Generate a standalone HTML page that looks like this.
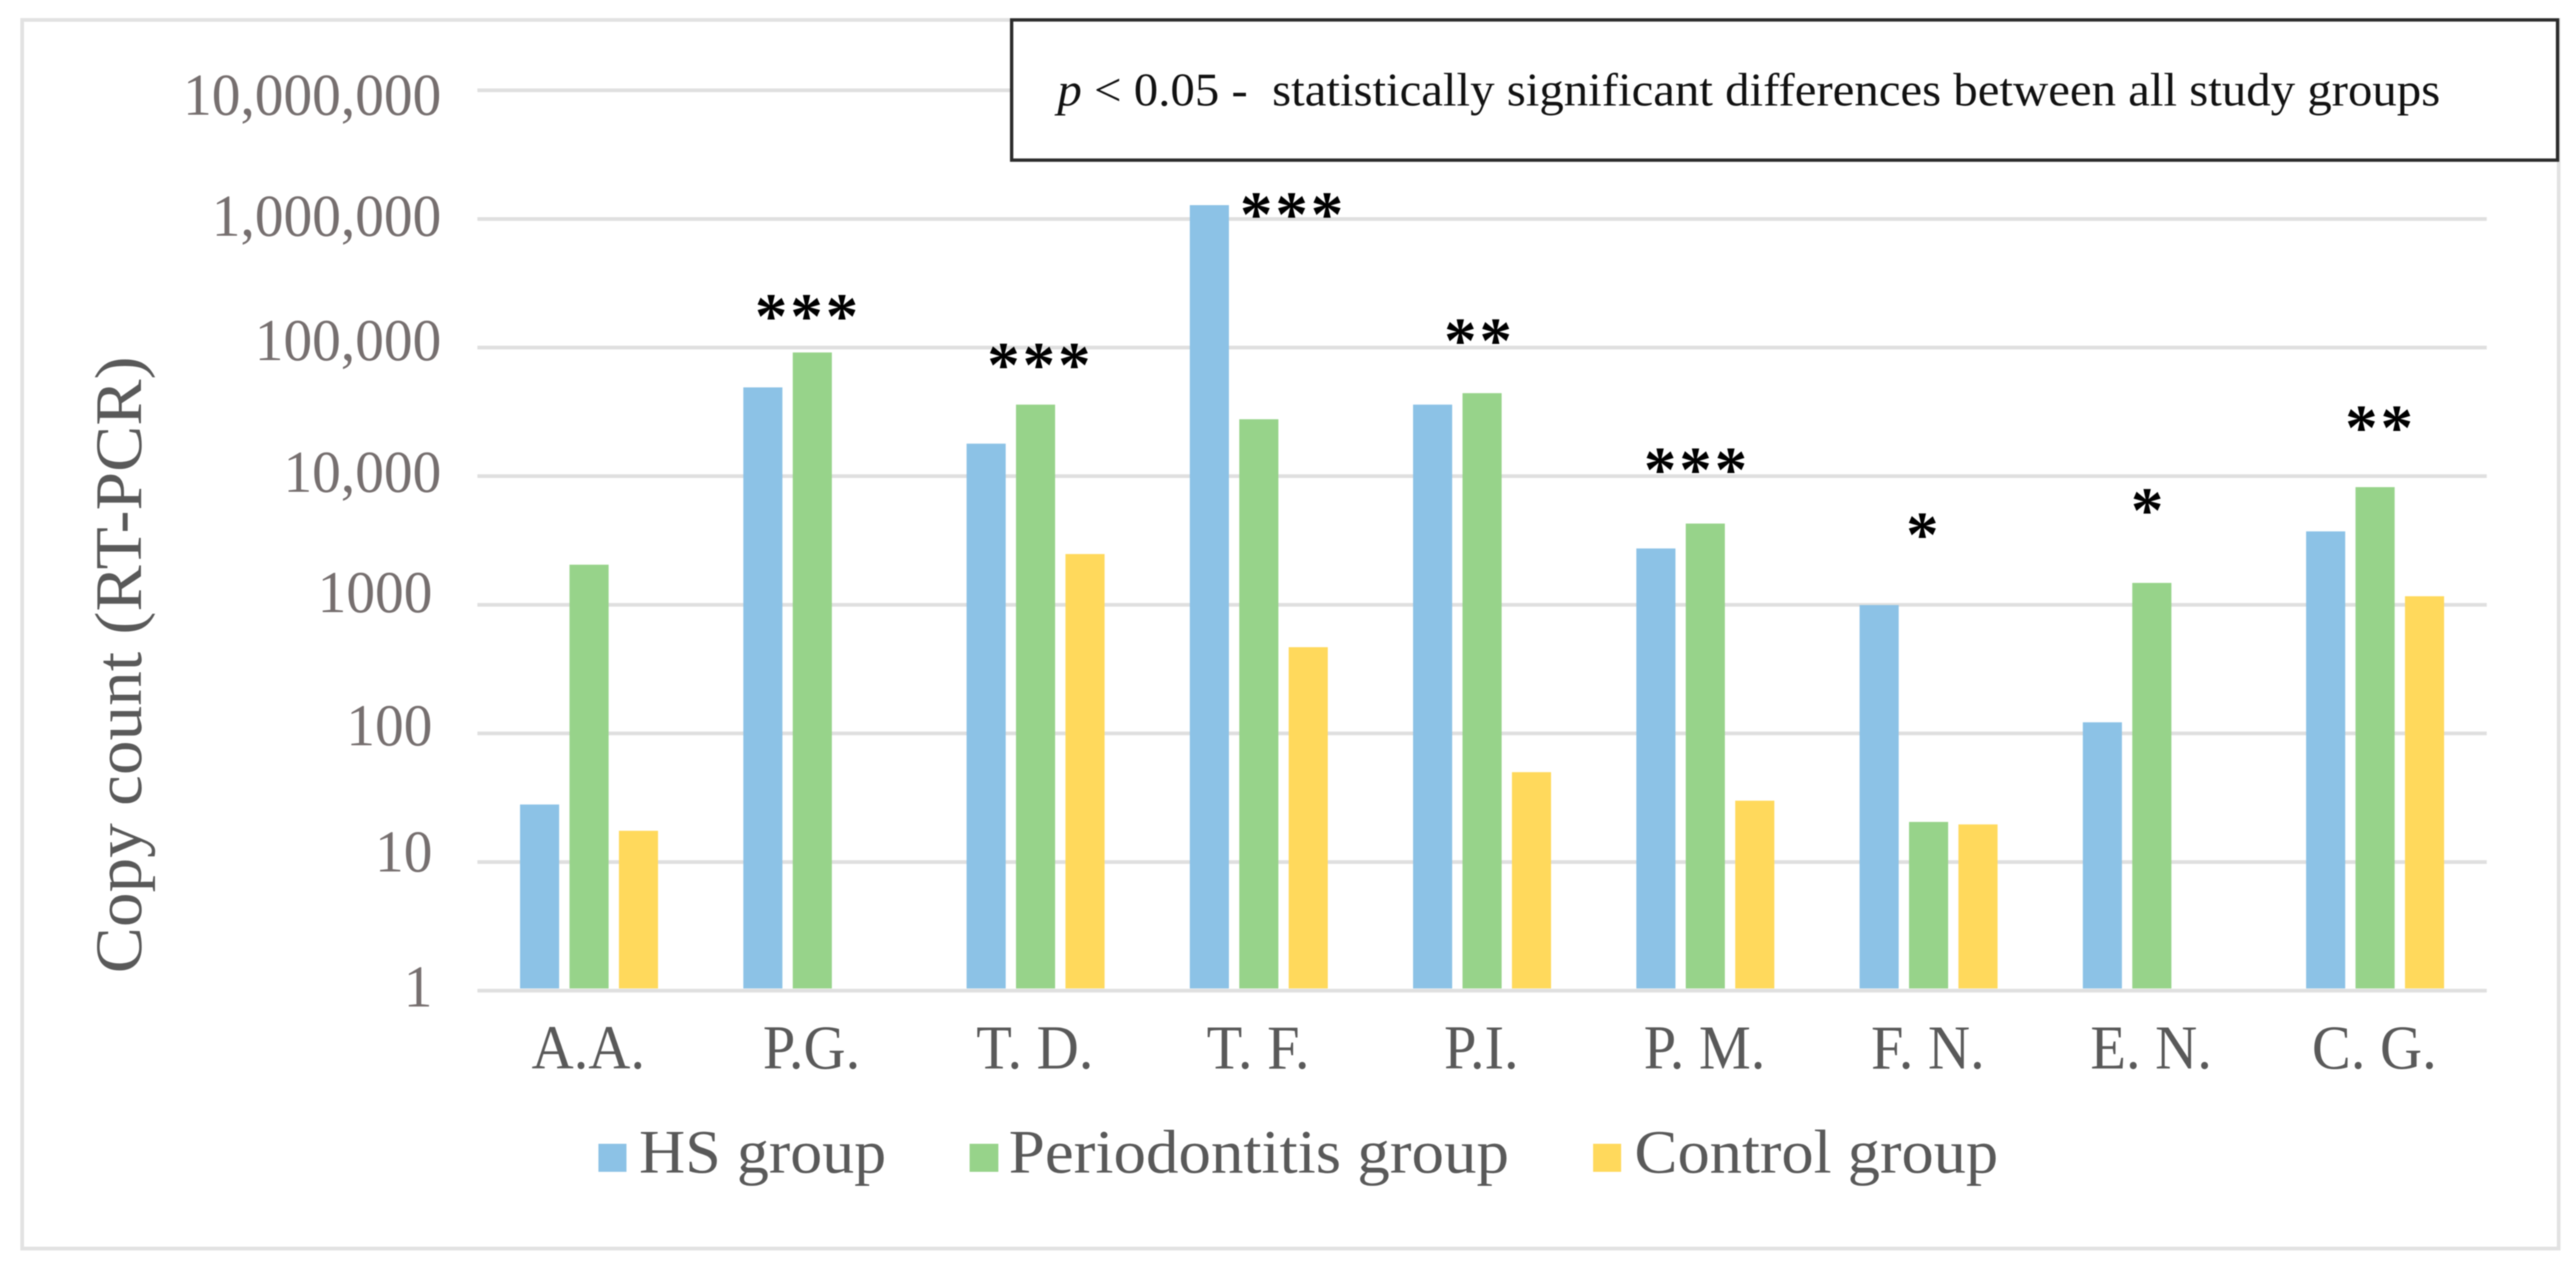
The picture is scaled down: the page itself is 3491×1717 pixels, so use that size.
<!DOCTYPE html>
<html lang="en">
<head>
<meta charset="utf-8">
<title>Copy count by species and study group</title>
<style>
  html, body { margin: 0; padding: 0; background: #fff; }
  body { width: 3491px; height: 1717px; overflow: hidden; }
  svg { display: block; filter: blur(0.8px); }
  text { font-family: "Liberation Serif", serif; }
</style>
</head>
<body>
<svg id="chart" xmlns="http://www.w3.org/2000/svg" width="3491" height="1717" viewBox="0 0 3491 1717">
  <rect x="30" y="27" width="3437.5" height="1665" fill="#fff" stroke="#e2e2e2" stroke-width="5"/>
  <g id="grid"></g>
  <g id="yticks"></g>
  <g id="bars"></g>
  <g id="xticks"></g>
  <g id="stars"></g>
  <text transform="translate(191,1319) rotate(-90)" font-size="90" fill="#595959" textLength="836" lengthAdjust="spacingAndGlyphs">Copy count (RT-PCR)</text>
  <g>
    <rect x="1371" y="27" width="2095" height="190" fill="#fff" stroke="#2b2b2b" stroke-width="4.5"/>
    <text x="1433" y="143" font-size="64" fill="#111" textLength="1874" lengthAdjust="spacingAndGlyphs" xml:space="preserve"><tspan font-style="italic">p</tspan> &lt; 0.05 -  statistically significant differences between all study groups</text>
  </g>
  <g>
    <g>
      <rect x="811" y="1550" width="38" height="38" fill="#8cc2e6"/>
      <text x="866" y="1589" font-size="84" fill="#595959" textLength="335" lengthAdjust="spacingAndGlyphs">HS group</text>
    </g>
    <g>
      <rect x="1314" y="1550" width="39" height="38" fill="#97d38a"/>
      <text x="1367" y="1589" font-size="84" fill="#595959" textLength="678" lengthAdjust="spacingAndGlyphs">Periodontitis group</text>
    </g>
    <g>
      <rect x="2159" y="1550" width="38" height="38" fill="#ffd95c"/>
      <text x="2215" y="1589" font-size="84" fill="#595959" textLength="493" lengthAdjust="spacingAndGlyphs">Control group</text>
    </g>
  </g>
</svg>
<script>
const categories = ["A.A.", "P.G.", "T. D.", "T. F.", "P.I.", "P. M.", "F. N.", "E. N.", "C. G."];
const hsGroup = [28, 49000, 17900, 1280000, 36000, 2740, 995, 122, 3720];
const periodontitisGroup = [2050, 91600, 36000, 27700, 44200, 4280, 20.5, 1480, 8220];
const controlGroup = [17.5, null, 2480, 468, 50, 30, 19.6, null, 1165];
const tickValues = [1, 10, 100, 1000, 10000, 100000, 1000000, 10000000];
const tickLabels = ["1", "10", "100", "1000", "10,000", "100,000", "1,000,000", "10,000,000"];
const significance = ["", "***", "***", "***", "**", "***", "*", "*", "**"];
const significanceLevel = [null, 201000, 84000, 1250000, 130000, 12900, 4030, 6230, 27400];

const NS = "http://www.w3.org/2000/svg";
const plot = { left: 647, right: 3370, base: 1342.5, decade: 174.3 };
const bandWidth = (plot.right - plot.left) / categories.length;
const barWidth = 53;
const barGap = 14;
const yScale = v => plot.base - plot.decade * Math.log10(v);
const bandStart = i => plot.left + bandWidth * i;
const bandCenter = i => bandStart(i) + bandWidth / 2;

function make(tag, attrs, parent, text) {
  const el = document.createElementNS(NS, tag);
  for (const k in attrs) el.setAttribute(k, attrs[k]);
  if (text !== undefined) el.textContent = text;
  parent.appendChild(el);
  return el;
}

const gridGroup = document.getElementById("grid");
tickValues.forEach(v => {
  const line = make("line", { x1: plot.left, x2: plot.right, y1: yScale(v), y2: yScale(v), stroke: "#dfdfdf", "stroke-width": 5 }, gridGroup);
  
  
});

// The reference's tick labels sit slightly off their gridlines.
const tickBaselineShift = [21.5, 13, 16, 10, 21, 17, 23, 33];
const tickGroup = document.getElementById("yticks");
tickValues.forEach((v, i) => {
  const label = make("text", {
    x: v >= 10000 ? 598 : 586,
    y: yScale(v) + tickBaselineShift[i],
    "text-anchor": "end",
    "font-size": 81,
    fill: "#766f6f"
  }, tickGroup, tickLabels[i]);
  
  
  label.setAttribute('textLength', (label.getComputedTextLength() * 0.96).toFixed(1));
  label.setAttribute('lengthAdjust', 'spacingAndGlyphs');
});

const seriesList = [
  { values: hsGroup, color: "#8cc2e6" },
  { values: periodontitisGroup, color: "#97d38a" },
  { values: controlGroup, color: "#ffd95c" }
];
const barsGroup = document.getElementById("bars");
const groupInset = (bandWidth - (barWidth * 3 + barGap * 2)) / 2;
seriesList.forEach((series, s) => {
  series.values.forEach((v, i) => {
    if (v === null) return;
    const top = yScale(v);
    const bar = make("rect", {
      x: bandStart(i) + groupInset + s * (barWidth + barGap),
      y: top,
      width: barWidth,
      height: plot.base - top - 3,
      fill: series.color
    }, barsGroup);
    
    
  });
});

const xGroup = document.getElementById("xticks");
categories.forEach((c, i) => {
  const label = make("text", {
    x: bandCenter(i) - 1,
    y: 1448,
    "text-anchor": "middle",
    "font-size": 85,
    fill: "#595959"
  }, xGroup, c);
  
  
  label.setAttribute('textLength', (label.getComputedTextLength() * 0.93).toFixed(1));
  label.setAttribute('lengthAdjust', 'spacingAndGlyphs');
});

// Horizontal nudge of each marker within its category band, as in the reference.
const starNudge = [0, -0.036, 0.005, 0.137, -0.028, -0.054, -0.038, -0.031, 0.008];
const starGroup = document.getElementById("stars");
significance.forEach((mark, i) => {
  if (!mark) return;
  const star = make("text", {
    x: bandCenter(i) + starNudge[i] * bandWidth + 5,
    y: yScale(significanceLevel[i]) + 40,
    "text-anchor": "middle",
    "font-size": 88,
    "font-weight": "bold",
    "letter-spacing": 4,
    fill: "#000"
  }, starGroup, mark);
  
  
});
</script>
</body>
</html>
